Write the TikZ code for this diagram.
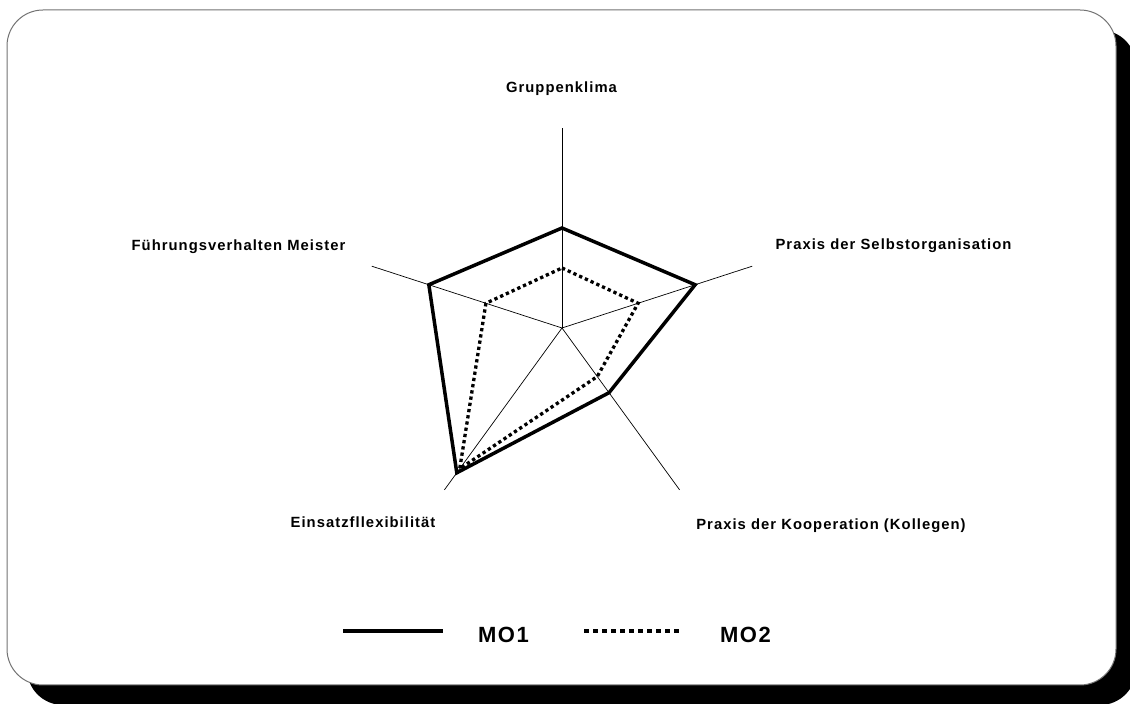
\documentclass[tikz,border=0pt]{standalone}
\usepackage{fontspec}
\setmainfont{Liberation Sans}
\newfontfamily\chartfont[LetterSpace=7]{Liberation Sans}
\begin{document}
\begin{tikzpicture}[x=1pt,y=1pt,
  frame/.style={draw=black!55, line width=1pt, fill=white, rounded corners=36pt},
  shadowbox/.style={fill=black, rounded corners=36pt},
  axisline/.style={line width=0.7pt, black},
  mosolid/.style={line width=3.5pt, line join=miter},
  modotted/.style={line width=3.3pt, dash pattern=on 3.3pt off 3pt},
  lab/.style={font={\chartfont\bfseries\fontsize{14.8}{17}\selectfont}, anchor=base, inner sep=0pt},
  leglab/.style={font={\chartfont\bfseries\fontsize{22}{26}\selectfont}, anchor=base, inner sep=0pt}]
\useasboundingbox (0,0) rectangle (1130,704);

% card with drop shadow
\begin{scope}
  \clip (0,0) rectangle (1130,704);
  \fill[shadowbox] (27,-1) rectangle (1136,674);
\end{scope}
\draw[frame] (7,19) rectangle (1116,694);

% radar chart
\begin{scope}[shift={(562,376)}]
  \coordinate (c) at (0,0);
  \foreach \n/\a in {1/90,2/18,3/-54,4/-126,5/162}{
    \coordinate (ax\n) at (\a:200);
    \draw[axisline] (c) -- (ax\n);
  }
  % MO1
  \coordinate (p1) at (90:100);
  \coordinate (p2) at (18:140);
  \coordinate (p3) at (-54:80);
  \coordinate (p4) at (-126:179);
  \coordinate (p5) at (162:140);
  % MO2
  \coordinate (q1) at (90:60);
  \coordinate (q2) at (18:80);
  \coordinate (q3) at (-54:60);
  \coordinate (q4) at (-126:174);
  \coordinate (q5) at (162:80);
  \draw[modotted] (q1) -- (q2) -- (q3) -- (q4) -- (q5) -- cycle;
  \draw[mosolid] (p1) -- (p2) -- (p3) -- (p4) -- (p5) -- cycle;
\end{scope}

% axis labels
\node[lab] (l1) at (561.5,611) {Gruppenklima};
\node[lab] (l2) at (893.5,454) {Praxis der Selbstorganisation};
\node[lab] (l3) at (831,174) {Praxis der Kooperation (Kollegen)};
\node[lab] (l4) at (363,176) {Einsatzfllexibilität};
\node[lab] (l5) at (238.5,453) {Führungsverhalten Meister};

% legend
\coordinate (s1) at (343,73);
\coordinate (s2) at (443,73);
\coordinate (d1) at (584,73);
\coordinate (d2) at (683,73);
\draw[line width=3.5pt] (s1) -- (s2);
\draw[line width=3.5pt, dash pattern=on 4.5pt off 4.5pt] (d1) -- (d2);
\node[leglab] (m1) at (503.5,61) {MO1};
\node[leglab] (m2) at (745.5,61) {MO2};
\end{tikzpicture}
\end{document}
